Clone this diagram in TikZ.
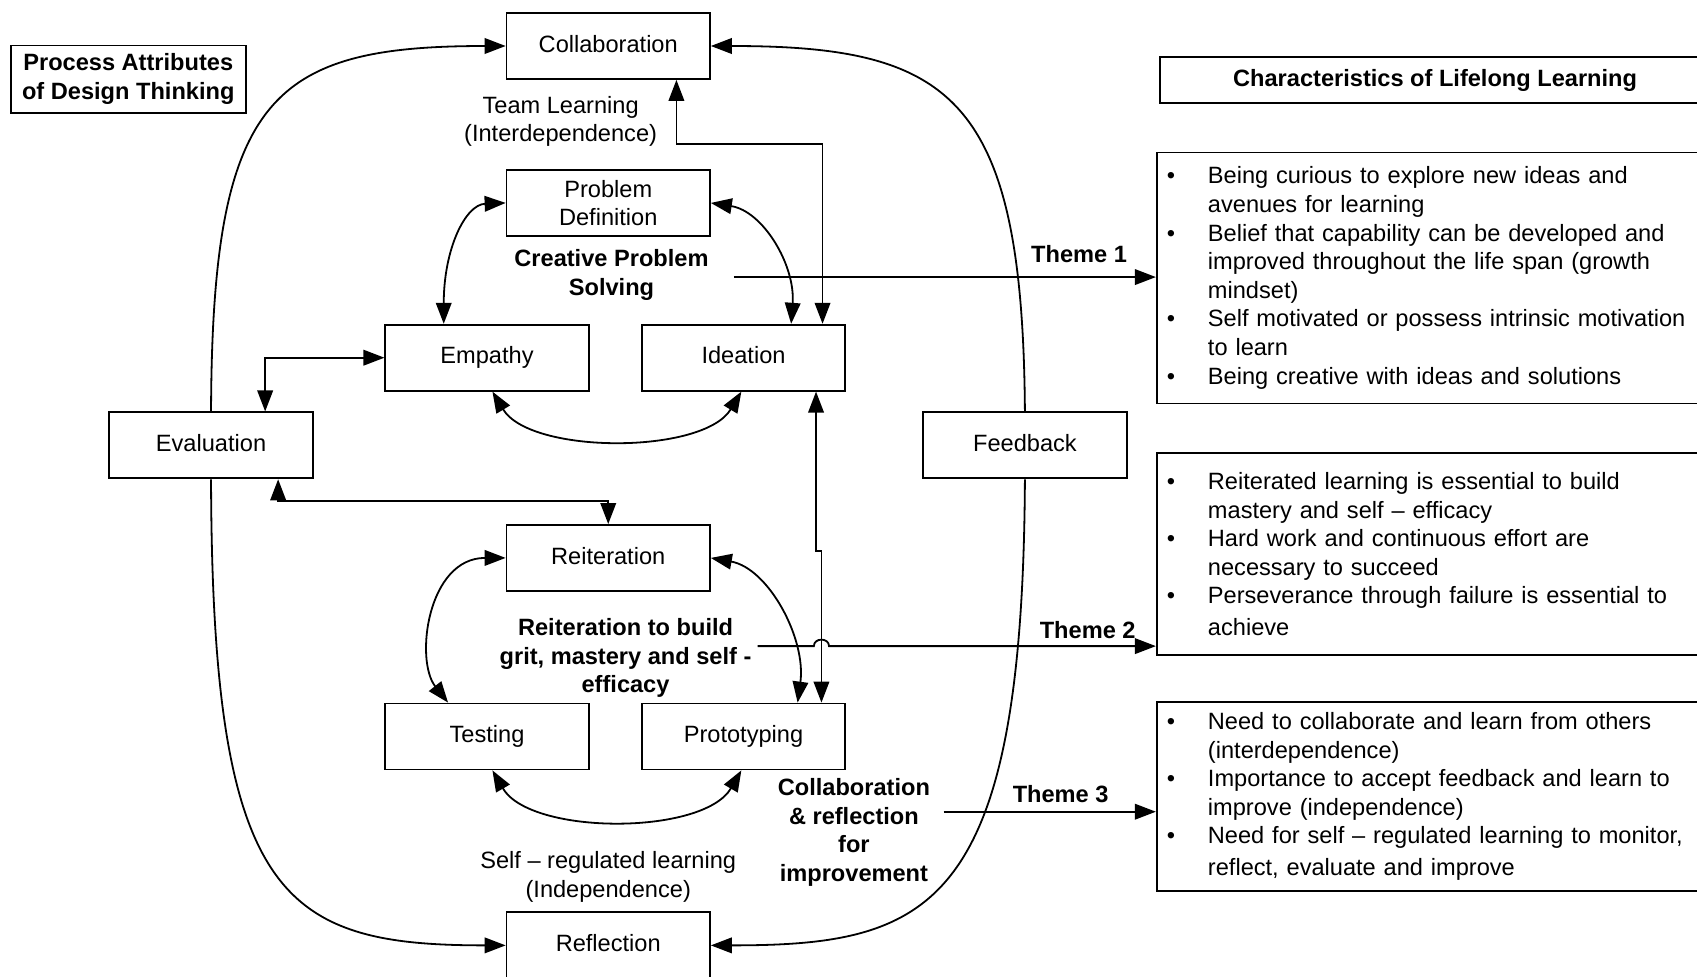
\documentclass[tikz,border=0pt]{standalone}
\usepackage{fontspec}
\setmainfont{Liberation Sans}
\usetikzlibrary{arrows.meta}

\newcommand\themebul{\makebox[20.6pt][l]{\textbullet}}
\newcommand\themeind{\hspace*{20.6pt}}

\begin{document}
\fontsize{11.8pt}{14.3pt}\selectfont
\begin{tikzpicture}[x=0.54115pt,y=-0.54115pt,line width=0.9pt,
  >={Triangle[length=10.5pt,width=7.8pt]},
  stagebox/.style={draw,minimum width=101.7pt,minimum height=33pt,align=center,inner sep=2pt},
  stage/.style={stagebox,text height=8.6pt,text depth=2.4pt},
  lbl/.style={align=center,font=\bfseries},
  note/.style={align=center},
  themebox/.style={draw,anchor=north west,text width=268pt,align=left,inner xsep=5pt}]
  \useasboundingbox (0,0) rectangle (1568,902);
  \clip (0,0) rectangle (1568,902);

  %stages
  \node[stage] (collab) at (562,42.5) {Collaboration};
  \node[stagebox] (probdef) at (562,187.5) {Problem\\Definition};
  \node[stage] (empathy) at (450,330.5) {Empathy};
  \node[stage] (ideation) at (687,330.5) {Ideation};
  \node[stage] (eval) at (195,411.5) {Evaluation};
  \node[stage] (feedback) at (947,411.5) {Feedback};
  \node[stage] (reiter) at (562,515.5) {Reiteration};
  \node[stage] (testing) at (450,680.5) {Testing};
  \node[stage] (proto) at (687,680.5) {Prototyping};
  \node[stage] (reflect) at (562,873.5) {Reflection};

  %labels
  \node[draw,lbl,minimum width=117.4pt,minimum height=33.6pt] (procattr) at (118.5,73) {Process Attributes\\of Design Thinking};
  \node[note] (teamlearn) at (518,112) {Team Learning\\(Interdependence)};
  \node[lbl] (cps) at (565,254) {Creative Problem\\Solving};
  \node[lbl] (reitlbl) at (578,608) {Reiteration to build\\grit, mastery and self -\\efficacy};
  \node[lbl] (collref) at (789,769) {Collaboration\\\& reflection\\for\\improvement};
  \node[note] (selfreg) at (562,810.5) {Self – regulated learning\\(Independence)};

  %outer loop
  \draw[->] (eval.north) .. controls (196,90) and (250,42.5) .. (collab.west);
  \draw[->] (eval.south) .. controls (196,830) and (260,873.5) .. (reflect.west);
  \draw[->] (feedback.north) .. controls (945,90) and (880,42.5) .. (collab.east);
  \draw[->] (feedback.south) .. controls (945,840) and (860,873.5) .. (reflect.east);

  %inner links
  \draw[<->] ([shift={(-40,0)}]empathy.north) .. controls (410,230) and (430,189) .. (probdef.west);
  \draw[<->] (probdef.east) .. controls (705,195) and (735,245) .. ([shift={(44,0)}]ideation.north);
  \draw[<->] ([shift={(5,0)}]empathy.south) .. controls (490,420) and (650,420) .. ([shift={(-2,0)}]ideation.south);
  \draw[<->] ([shift={(63,0)}]collab.south) -- ++(0,59) -| ([shift={(73,0)}]ideation.north);
  \draw[<->] ([shift={(50,0)}]eval.north) |- (empathy.west);
  \draw[<->] ([shift={(62,0)}]eval.south) -- ++(0,20) -| (reiter.north);
  \draw[<->] ([shift={(67,0)}]ideation.south) |- ([shift={(72,-140)}]proto.north) -- ([shift={(72,0)}]proto.north);
  \draw[<->] (reiter.west) .. controls (395,515.5) and (383,610) .. ([shift={(-36,0)}]testing.north);
  \draw[<->] (reiter.east) .. controls (710,525) and (745,590) .. ([shift={(50,0)}]proto.north);
  \draw[<->] ([shift={(5,0)}]testing.south) .. controls (490,772) and (650,772) .. ([shift={(-2,0)}]proto.south);

  %characteristics
  \node[draw,lbl,minimum width=274.9pt,minimum height=22.7pt] (charhead) at (1326,74) {Characteristics of Lifelong Learning};
  \node[themebox,minimum height=125.5pt] (theme1) at (1068,140) {%
    \themebul Being curious to explore new ideas and\\
    \themeind avenues for learning\\
    \themebul Belief that capability can be developed and\\
    \themeind improved throughout the life span (growth\\
    \themeind mindset)\\
    \themebul Self motivated or possess intrinsic motivation\\
    \themeind to learn\\
    \themebul Being creative with ideas and solutions};
  \node[themebox,minimum height=100.7pt] (theme2) at (1068,418) {%
    \themebul Reiterated learning is essential to build\\
    \themeind mastery and self – efficacy\\
    \themebul Hard work and continuous effort are\\
    \themeind necessary to succeed\\
    \themebul Perseverance through failure is essential to\\[1.5pt]
    \themeind achieve};
  \node[themebox,minimum height=94.2pt] (theme3) at (1068,648) {%
    \themebul Need to collaborate and learn from others\\
    \themeind (interdependence)\\
    \themebul Importance to accept feedback and learn to\\
    \themeind improve (independence)\\
    \themebul Need for self – regulated learning to monitor,\\[1.5pt]
    \themeind reflect, evaluate and improve};

  %themes
  \coordinate (t1) at (678,256);
  \coordinate (t2) at (700,597);
  \coordinate (t3) at (872,750);
  \node[lbl] (th1) at (997,235) {Theme 1};
  \node[lbl] (th2) at (1005,582) {Theme 2};
  \node[lbl] (th3) at (980,734) {Theme 3};
  \draw[->] (t1) -- (t1 -| theme1.west);
  \draw[->] (t2) -- (752,597) .. controls (752,589) and (766,589) .. (766,597) -- (t2 -| theme2.west);
  \draw[->] (t3) -- (t3 -| theme3.west);
\end{tikzpicture}
\end{document}
